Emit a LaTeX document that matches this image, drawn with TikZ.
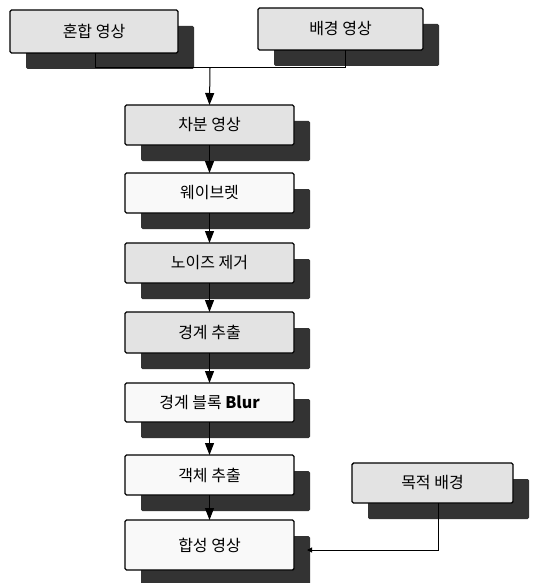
\documentclass[tikz,border=0pt]{standalone}
\usepackage{fontspec}
\setmainfont{Noto Sans CJK KR}
\usetikzlibrary{arrows.meta,shadows}
\begin{document}
\begin{tikzpicture}[x=1pt,y=-1pt,
  box/.style={draw=black, line width=1.4pt, rounded corners=1.5pt, inner sep=0pt, outer sep=0pt,
    minimum width=169pt, minimum height=40pt, font=\fontsize{16}{19}\selectfont,
    drop shadow={shadow xshift=16pt, shadow yshift=-16pt, fill=black!80, draw=none, opacity=1}},
  graybox/.style={box, fill=gray!22},
  whitebox/.style={box, fill=gray!5},
  conn/.style={line width=1pt, draw=black},
  arr/.style={conn, -{Triangle[width=9pt,length=12pt]}},
  sarr/.style={conn, -{Triangle[width=5pt,length=5pt]}}]
\useasboundingbox (0,0) rectangle (539,583);
\node[graybox, minimum width=168pt, minimum height=43pt] (mix) at (94,31.5) {혼합 영상};
\node[graybox, minimum width=165pt, minimum height=42pt] (bg) at (340.5,29) {배경 영상};
\node[graybox] (diff) at (209.5,125) {차분 영상};
\node[whitebox] (wav) at (209.5,193) {웨이브렛};
\node[graybox] (noise) at (209.5,263) {노이즈 제거};
\node[graybox, minimum height=41pt] (edge) at (209.5,332.5) {경계 추출};
\node[whitebox, minimum height=39pt] (blur) at (209.5,402.5) {경계 블록 \textbf{Blur}};
\node[whitebox] (obj) at (209.5,475) {객체 추출};
\node[whitebox, minimum height=50pt] (comp) at (209.5,545) {합성 영상};
\node[graybox, minimum width=161pt] (goal) at (432.5,483) {목적 배경};
\coordinate (j) at (210,68);
\coordinate (jl) at (95,68);
\coordinate (jr) at (345,68);
\coordinate (t) at (307,550);
\coordinate (tg) at (438,550);
\draw[conn] (mix.south -| jl) -- (jl) -- (jr) -- (bg.south -| jr);
\draw[arr] (j) -- (diff.north);
\draw[arr] (diff.south) -- (wav.north);
\draw[arr] (wav.south) -- (noise.north);
\draw[arr] (noise.south) -- (edge.north);
\draw[arr] (edge.south) -- (blur.north);
\draw[arr] (blur.south) -- (obj.north);
\draw[arr] (obj.south) -- (comp.north);
\draw[sarr] (goal.south -| tg) -- (tg) -- (t);
\end{tikzpicture}
\end{document}
